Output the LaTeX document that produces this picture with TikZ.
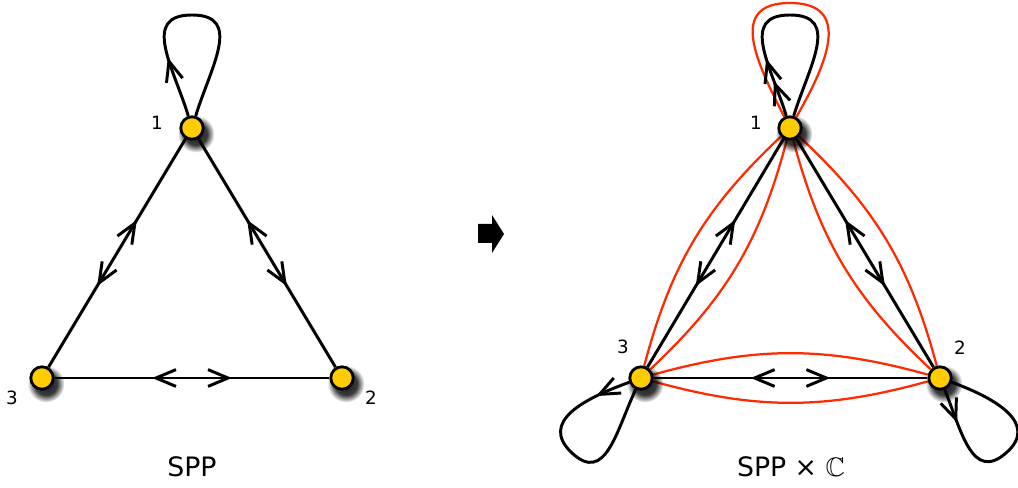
\documentclass[tikz,border=0pt]{standalone}
\usepackage{fontspec}
\usepackage{amssymb}
\setmainfont{DejaVu Sans}
\usetikzlibrary{positioning, arrows.meta, calc, backgrounds, shadows, fadings, decorations.markings}
\definecolor{vertexfill}{HTML}{FFCC00}
\definecolor{liftred}{HTML}{FF2A00}
\pgfdeclareradialshading{softshade}{\pgfpoint{0bp}{0bp}}{%
  color(0bp)=(pgftransparent!0); color(15bp)=(pgftransparent!15);
  color(25bp)=(pgftransparent!100); color(50bp)=(pgftransparent!100)}
\pgfdeclarefading{softshadow}{\pgfuseshading{softshade}}

\begin{document}
\begin{tikzpicture}[
    x=0.025cm, y=0.025cm,
    barb/.tip={Straight Barb[length=0.5cm, width=0.42cm]},
    vtx/.style={circle, draw=black, fill=vertexfill, line width=2pt,
                minimum size=0.56cm, inner sep=0pt,
                circular drop shadow={shadow xshift=0.06cm, shadow yshift=-0.09cm,
                                      shadow scale=1.65, opacity=0.9, fill=black,
                                      path fading=softshadow}},
    num/.style={font=\fontsize{13}{15}\selectfont, inner sep=0pt},
    caption/.style={font=\fontsize{19}{22}\selectfont, inner sep=0pt},
    link/.style={line width=2.1pt, black},
    lift/.style={line width=1.6pt, liftred},
    twoway/.style={decoration={markings,
        mark=at position 0.355 with {\arrowreversed{barb}},
        mark=at position 0.645 with {\arrow{barb}}}, postaction={decorate}},
    loopone/.style={decoration={markings,
        mark=at position #1 with {\arrow{barb}}}, postaction={decorate}},
    looptwo/.style={decoration={markings,
        mark=at position 0.15 with {\arrow{barb}},
        mark=at position 0.245 with {\arrow{barb}}}, postaction={decorate}}
  ]
    \useasboundingbox (0,0) rectangle (1018,487);

    % SPP
    \node[vtx] (l1) at (192,359) {};
    \node[vtx] (l2) at (342,109) {};
    \node[vtx] (l3) at (42,109) {};
    \node[num] (l1n) at ($(l1)+(-35,5)$) {1};
    \node[num] (l2n) at ($(l2)+(29,-20)$) {2};
    \node[num] (l3n) at ($(l3)+(-30,-20)$) {3};
    \coordinate (l1top) at (192,472);
    \node[caption] (lcap) at (192,20) {SPP};

    % SPP x C
    \node[vtx] (r1) at (790,359) {};
    \node[vtx] (r2) at (940,109) {};
    \node[vtx] (r3) at (641,109) {};
    \node[num] (r1n) at ($(r1)+(-34,5)$) {1};
    \node[num] (r2n) at ($(r2)+(20,30)$) {2};
    \node[num] (r3n) at ($(r3)+(-18,31)$) {3};
    \coordinate (r1top) at (790,472);
    \coordinate (r1outer) at (790,484);
    \coordinate (r2tip) at (1006,34);
    \coordinate (r3tip) at (572,34);
    \node[caption] (rcap) at (791,20) {SPP × $\mathbb{C}$};

    \fill (478,263) -- (492,263) -- (492,272) -- (504,253) -- (492,234)
      -- (492,244) -- (478,244) -- cycle;

    \begin{scope}[on background layer]
      \draw[link, twoway] (l3) -- (l1);
      \draw[link, twoway] (l1) -- (l2);
      \draw[link, twoway] (l3) -- (l2);
      \draw[link, loopone=0.25] (l1) to[out=107, in=180, looseness=1.3] (l1top)
        to[out=0, in=73, looseness=1.3] (l1);

      \draw[lift] (r3) to[bend left=16] (r1);
      \draw[lift] (r3) to[bend right=16] (r1);
      \draw[lift] (r1) to[bend left=16] (r2);
      \draw[lift] (r1) to[bend right=16] (r2);
      \draw[lift] (r3) to[bend left=15.5] (r2);
      \draw[lift] (r3) to[bend right=15.5] (r2);
      \draw[lift] (r1) to[out=117, in=180, looseness=1.4] (r1outer)
        to[out=0, in=60, looseness=1.4] (r1);

      \draw[link, twoway] (r3) -- (r1);
      \draw[link, twoway] (r1) -- (r2);
      \draw[link, twoway] (r3) -- (r2);
      \draw[link, looptwo] (r1) to[out=107, in=180, looseness=1.3] (r1top)
        to[out=0, in=73, looseness=1.3] (r1);
      \draw[link, loopone=0.16] (r3) to[out=200, in=137, looseness=1.3] (r3tip)
        to[out=317, in=245, looseness=1.3] (r3);
      \draw[link, loopone=0.16] (r2) to[out=292, in=221, looseness=1.3] (r2tip)
        to[out=41, in=340, looseness=1.3] (r2);
    \end{scope}
  \end{tikzpicture}
\end{document}
